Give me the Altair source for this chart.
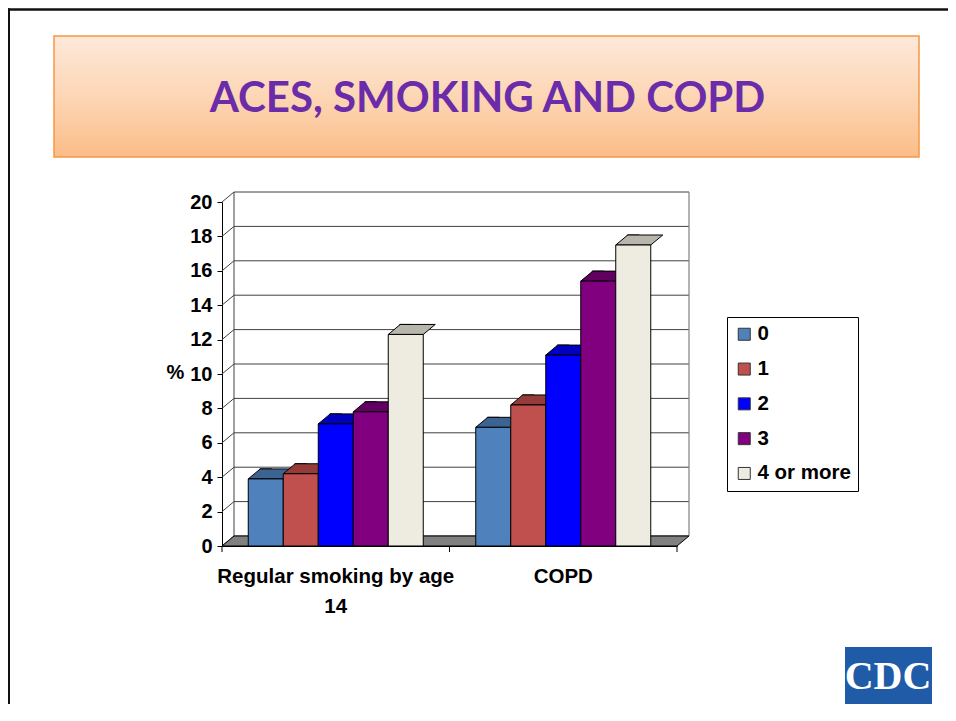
import altair as alt
import pandas as pd

# ---------------- data ----------------
categories = ["Regular smoking by age 14", "COPD"]
groups = ["0", "1", "2", "3", "4 or more"]
smoking_vals = [3.9, 4.2, 7.1, 7.8, 12.3]
copd_vals = [6.9, 8.2, 11.1, 15.4, 17.5]
y_ticks = [0, 2, 4, 6, 8, 10, 12, 14, 16, 18, 20]

title_text = "ACES, SMOKING AND COPD"
y_title = "%"

# ---------------- styles ----------------
front_colors = ["#4f81bd", "#c0504d", "#0000ff", "#800080", "#eeece1"]
top_colors = ["#3c6493", "#943c3a", "#0000c0", "#620062", "#b8b5ad"]
side_color = "#7a7972"
FONT = "Liberation Sans"

W, H = 455, 344          # plot area
DX, DY = 12, 10          # 3-D depth offset in pixels
BAR_W = 35
PAD = {"left": 214, "top": 194, "right": 271, "bottom": 158}

rows = []
for cat, vals in zip(categories, [smoking_vals, copd_vals]):
    for g, v in zip(groups, vals):
        rows.append({"category": cat, "group": g, "value": v})
df = pd.DataFrame(rows)
df_cat = pd.DataFrame({"category": categories})
df_ticks = pd.DataFrame({"v": y_ticks})
one = pd.DataFrame({"k": [0]})

x_scale = alt.Scale(domain=categories, paddingInner=0, paddingOuter=0)
xo_scale = alt.Scale(domain=groups, paddingInner=0, paddingOuter=0.75)
y_scale = alt.Scale(domain=[0, 20], nice=False, zero=True)

x_axis = alt.Axis(
    title=None, labelAngle=0, labelFont=FONT, labelFontSize=20.5,
    labelFontWeight="bold", labelColor="black", labelPadding=20,
    labelLineHeight=30, ticks=False, tickSize=0, domainColor="black",
    domainWidth=1, labelLimit=0,
    labelExpr="length(datum.label) > 20 ? [slice(datum.label, 0, lastindexof(datum.label, ' ')), slice(datum.label, lastindexof(datum.label, ' ') + 1)] : datum.label",
)
y_axis = alt.Axis(
    values=y_ticks, title=y_title, titleAngle=0, titleX=-47, titleY=170,
    titleAlign="center", titleBaseline="middle", titleFont=FONT,
    titleFontSize=20, titleFontWeight="bold", titleColor="black",
    labelFont=FONT, labelFontSize=20, labelFontWeight="bold",
    labelColor="black", tickSize=5, tickColor="black", domainColor="black",
    labelPadding=5, grid=False,
)

X = alt.X("category:N", sort=categories, scale=x_scale, axis=x_axis)
XO = alt.XOffset("group:N", sort=groups, scale=xo_scale)
Y = alt.Y("value:Q", scale=y_scale, axis=y_axis)

# ---------------- slide decorations ----------------
border_top = alt.Chart(one).mark_rule(color="#111", strokeWidth=2.6).encode(
    x=alt.value(-214), x2=alt.value(W + 271), y=alt.value(-192.5))
border_left = alt.Chart(one).mark_rule(color="#111", strokeWidth=2.6).encode(
    x=alt.value(-213.3), y=alt.value(-193.8), y2=alt.value(H + 200))

title_box = alt.Chart(one).mark_rect(
    fill={"gradient": "linear", "x1": 0, "y1": 0, "x2": 0, "y2": 1,
          "stops": [{"offset": 0, "color": "#fde9da"},
                    {"offset": 0.5, "color": "#fdd6b5"},
                    {"offset": 1, "color": "#fbbd88"}]},
    stroke="#f79646", strokeWidth=1.5,
).encode(x=alt.value(-168), x2=alt.value(697), y=alt.value(-166), y2=alt.value(-45))

title_mark = alt.Chart(one).mark_text(
    text=title_text, font="Lato", fontSize=42, fontWeight="bold",
    color="#6a2ca8", align="center", baseline="alphabetic",
).encode(x=alt.value(265.5), y=alt.value(-90))

# ---------------- chart walls / grid ----------------
grid = alt.Chart(df_ticks).mark_rule(color="#404040", strokeWidth=1, yOffset=-DY).encode(
    y=alt.Y("v:Q", scale=y_scale, axis=y_axis), x=alt.value(DX), x2=alt.value(W + DX))
diag = alt.Chart(df_ticks).mark_rule(color="#404040", strokeWidth=1, y2Offset=-DY).encode(
    y=alt.Y("v:Q", scale=y_scale, axis=y_axis), y2=alt.Y2("v:Q"),
    x=alt.value(0), x2=alt.value(DX))
wall_left = alt.Chart(one).mark_rule(color="#404040", strokeWidth=1).encode(
    x=alt.value(DX), y=alt.value(-DY), y2=alt.value(H - DY))
wall_right = alt.Chart(one).mark_rule(color="#808080", strokeWidth=1.2).encode(
    x=alt.value(W + DX), y=alt.value(-DY), y2=alt.value(H - DY))

floor_path = f"M0,0L{W},0L{W + DX},{-DY}L{DX},{-DY}Z"
floor = alt.Chart(one).mark_point(
    shape=floor_path, size=4, filled=True, fill="#808080", stroke="black",
    strokeWidth=1, opacity=1,
).encode(x=alt.value(0), y=alt.value(H))

# ---------------- 3-D bars ----------------
sides = alt.Chart(df).mark_bar(
    color=side_color, stroke="black", strokeWidth=1, width=DX,
    xOffset=BAR_W / 2 + DX / 2, yOffset=-DY, y2Offset=-DY,
).encode(x=X, xOffset=XO, y=Y)

h = BAR_W / 2
top_path = f"M{-h},0L{h},0L{h + DX},{-DY}L{-h + DX},{-DY}Z"
tops = [
    alt.Chart(df).transform_filter(alt.datum.group == g).mark_point(
        shape=top_path, size=4, filled=True, fill=c, stroke="black",
        strokeWidth=1, opacity=1,
    ).encode(x=X, xOffset=XO, y=Y)
    for g, c in zip(groups, top_colors)
]

fronts = alt.Chart(df).mark_bar(stroke="black", strokeWidth=1, opacity=1).encode(
    x=X, xOffset=XO, y=Y,
    color=alt.Color(
        "group:N", sort=groups,
        scale=alt.Scale(domain=groups, range=front_colors),
        legend=alt.Legend(
            title=None, orient="none", legendX=505, legendY=115,
            direction="vertical", fillColor="white", strokeColor="black",
            padding=7, symbolType="square", symbolSize=144,
            symbolStrokeColor="#333", symbolStrokeWidth=1, symbolOpacity=1,
            labelFont=FONT, labelFontSize=20.5, labelFontWeight="bold",
            labelColor="black", labelOffset=3, rowPadding=13.8,
        ),
    ),
)

xticks_start = alt.Chart(df_cat).mark_rule(color="black").encode(
    x=alt.X("category:N", sort=categories, scale=x_scale, axis=x_axis, bandPosition=0),
    y=alt.value(H), y2=alt.value(H + 6))
xticks_end = alt.Chart(df_cat).mark_rule(color="black").encode(
    x=alt.X("category:N", sort=categories, scale=x_scale, axis=x_axis, bandPosition=1),
    y=alt.value(H), y2=alt.value(H + 6))

# ---------------- CDC logo ----------------
logo_box = alt.Chart(one).mark_rect(fill="#1f5ba6").encode(
    x=alt.value(623), x2=alt.value(710), y=alt.value(445), y2=alt.value(506))
logo_text = alt.Chart(one).mark_text(
    text="CDC", font="Liberation Serif", fontSize=40, fontWeight="bold",
    color="white", align="center", baseline="alphabetic",
).encode(x=alt.value(666), y=alt.value(487))

chart = alt.layer(
    border_top, border_left, title_box, title_mark,
    grid, diag, wall_left, wall_right, floor,
    sides, *tops, fronts, xticks_start, xticks_end,
    logo_box, logo_text,
).properties(
    width=W, height=H, padding=PAD,
    autosize=alt.AutoSizeParams(type="none"),
    background="white",
).configure_view(stroke=None)

chart.save("out.html", embed_options={"renderer": "svg", "actions": False})
